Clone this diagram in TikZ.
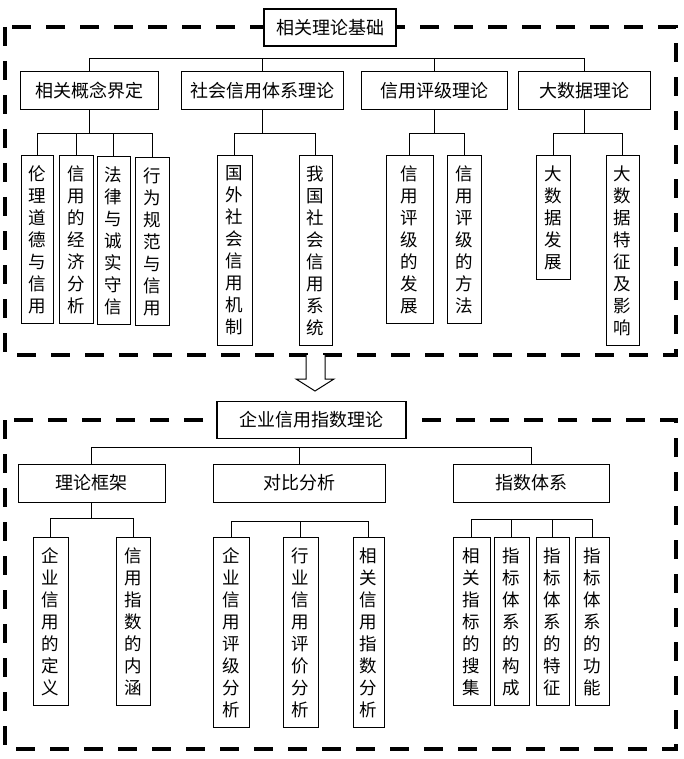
\documentclass[tikz,border=0pt]{standalone}
\usepackage{fontspec}
\setmainfont{Noto Sans CJK SC}

\begin{document}
\begin{tikzpicture}[x=1pt, y=-1pt,
        frame/.style={line width=4pt, dash pattern=on 19pt off 15pt},
        titlebox/.style={draw, line width=1.8pt, fill=white, minimum height=37pt, inner sep=0pt, font=\fontsize{18}{22}\selectfont},
        topicbox/.style={draw, line width=1pt, minimum height=38pt, inner sep=0pt, font=\fontsize{18}{22}\selectfont},
        leafbox/.style={draw, line width=1pt, minimum width=34pt, inner sep=0pt, anchor=north, align=center, font=\fontsize{17.5}{22}\selectfont}]
        \useasboundingbox (0,0) rectangle (683,759);

        \coordinate (bus1) at (0,58);
        \coordinate (sub1) at (0,133);
        \coordinate (bus2) at (0,447);
        \coordinate (subE) at (0,518);
        \coordinate (subF) at (0,521);
        \coordinate (subG) at (0,519);

        % upper frame
        \draw[frame] (5,27) rectangle (676,355);
        \node[titlebox, minimum width=132pt] (top) at (330,27.5) {相关理论基础};

        \node[topicbox, minimum width=138pt] (A) at (89,91) {相关概念界定};
        \node[topicbox, minimum width=162pt] (B) at (262,91) {社会信用体系理论};
        \node[topicbox, minimum width=146pt] (C) at (434,91) {信用评级理论};
        \node[topicbox, minimum width=132pt] (D) at (584,91) {大数据理论};

        \node[leafbox, minimum width=32pt, minimum height=168pt] (a1) at (37,155) {伦\\理\\道\\德\\与\\信\\用};
        \node[leafbox, minimum height=168pt] (a2) at (76,155) {信\\用\\的\\经\\济\\分\\析};
        \node[leafbox, minimum width=33pt, minimum height=168pt] (a3) at (113.5,156) {法\\律\\与\\诚\\实\\守\\信};
        \node[leafbox, minimum height=168pt] (a4) at (152,157) {行\\为\\规\\范\\与\\信\\用};
        \node[leafbox, minimum width=35pt, minimum height=190pt] (b1) at (234.5,155) {国\\外\\社\\会\\信\\用\\机\\制};
        \node[leafbox, minimum width=33pt, minimum height=190pt] (b2) at (315.5,155) {我\\国\\社\\会\\信\\用\\系\\统};
        \node[leafbox, minimum width=47pt, minimum height=168pt] (c1) at (409.5,155) {信\\用\\评\\级\\的\\发\\展};
        \node[leafbox, minimum height=168pt] (c2) at (464,155) {信\\用\\评\\级\\的\\方\\法};
        \node[leafbox, minimum height=124pt] (d1) at (553,155) {大\\数\\据\\发\\展};
        \node[leafbox, minimum width=33pt, minimum height=190pt] (d2) at (622.5,155) {大\\数\\据\\特\\征\\及\\影\\响};

        \draw (A.north) -- (A.north |- bus1) -- (D.north |- bus1) -- (D.north);
        \foreach \n in {B,C}
            \draw (\n.north) -- (\n.north |- bus1);
        \foreach \p/\first/\last in {A/a1/a4, B/b1/b2, C/c1/c2, D/d1/d2} {
            \draw (\p.south) -- (\p.south |- sub1);
            \draw (\first.north |- sub1) -- (\last.north |- sub1);
        }
        \foreach \n in {a1,a2,a3,a4,b1,b2,c1,c2,d1,d2}
            \draw (\n.north) -- (\n.north |- sub1);

        % hollow arrow
        \filldraw[fill=white, line width=1pt] (306,355) -- (306,379) -- (296,379) -- (315,391) -- (334,379) -- (325,379) -- (325,355);

        % lower frame
        \draw[frame] (5,420) rectangle (676,749);
        \node[titlebox, minimum width=189pt] (low) at (311.5,420) {企业信用指数理论};

        \node[topicbox, minimum width=147pt] (E) at (91.5,483) {理论框架};
        \node[topicbox, minimum width=172pt] (F) at (299,483) {对比分析};
        \node[topicbox, minimum width=156pt] (G) at (531,483) {指数体系};

        \node[leafbox, minimum width=35pt, minimum height=168pt] (e1) at (50.5,537) {企\\业\\信\\用\\的\\定\\义};
        \node[leafbox, minimum height=168pt] (e2) at (133,537) {信\\用\\指\\数\\的\\内\\涵};
        \node[leafbox, minimum width=36pt, minimum height=190pt] (f1) at (231,537) {企\\业\\信\\用\\评\\级\\分\\析};
        \node[leafbox, minimum width=35pt, minimum height=190pt] (f2) at (300.5,537) {行\\业\\信\\用\\评\\价\\分\\析};
        \node[leafbox, minimum width=31pt, minimum height=190pt] (f3) at (368.5,537) {相\\关\\信\\用\\指\\数\\分\\析};
        \node[leafbox, minimum width=37pt, minimum height=168pt] (g1) at (471.5,537) {相\\关\\指\\标\\的\\搜\\集};
        \node[leafbox, minimum width=35pt, minimum height=168pt] (g2) at (511.5,537) {指\\标\\体\\系\\的\\构\\成};
        \node[leafbox, minimum width=33pt, minimum height=168pt] (g3) at (552.5,537) {指\\标\\体\\系\\的\\特\\征};
        \node[leafbox, minimum height=168pt] (g4) at (592,537) {指\\标\\体\\系\\的\\功\\能};

        \draw (E.north) -- (E.north |- bus2) -- (G.north |- bus2) -- (G.north);
        \draw (F.north) -- (F.north |- bus2);
        \draw (E.south) -- (E.south |- subE);
        \draw (e1.north |- subE) -- (e2.north |- subE);
        \draw (f1.north |- subF) -- (f3.north |- subF);
        \draw (g1.north |- subG) -- (g4.north |- subG);
        \foreach \n in {e1,e2}
            \draw (\n.north) -- (\n.north |- subE);
        \foreach \n in {f1,f2,f3}
            \draw (\n.north) -- (\n.north |- subF);
        \foreach \n in {g1,g2,g3,g4}
            \draw (\n.north) -- (\n.north |- subG);
\end{tikzpicture}
\end{document}
